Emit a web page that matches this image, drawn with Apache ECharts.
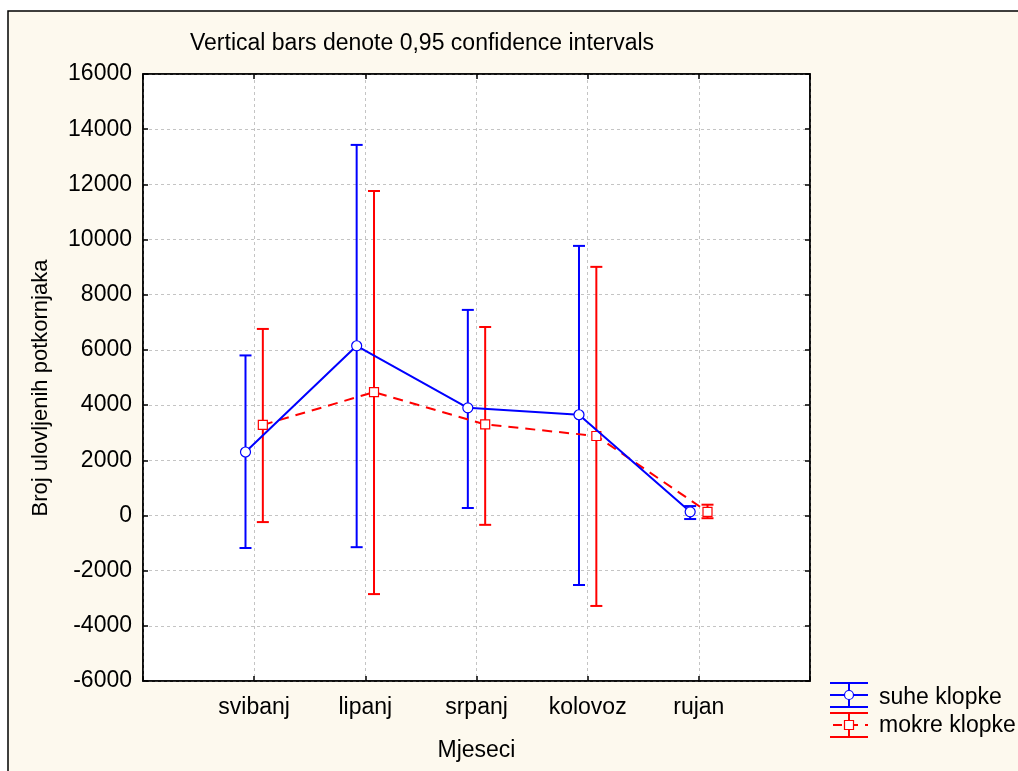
<!DOCTYPE html>
<html>
<head>
<meta charset="utf-8">
<script src="https://cdn.jsdelivr.net/npm/echarts@6/dist/echarts.min.js"></script>
<style>
html,body{margin:0;padding:0;background:#fff;}
#chart{width:1018px;height:771px;}
</style>
</head>
<body>
<div id="chart"></div>
<script>
// ---- data ----
var categories = ['svibanj', 'lipanj', 'srpanj', 'kolovoz', 'rujan'];
var suheMean = [2300, 6150, 3900, 3650, 130];
var suheLow  = [-1180, -1150, 270, -2520, -130];
var suheHigh = [5800, 13430, 7450, 9770, 340];
var mokreMean = [3280, 4470, 3300, 2880, 130];
var mokreLow  = [-240, -2850, -340, -3280, -100];
var mokreHigh = [6760, 11760, 6830, 9010, 390];
var yTicks = [-6000, -4000, -2000, 0, 2000, 4000, 6000, 8000, 10000, 12000, 14000, 16000];

var BLUE = '#0000ff', RED = '#ff0000';
var OFF = 0.078;
var FONT = 'Liberation Sans, Arial, sans-serif';
var FS = 23;

function pts(vals, off) { return vals.map(function (v, i) { return [i + 1 + off, v]; }); }
function bars(lo, hi, off) { return lo.map(function (v, i) { return [i + 1 + off, v, hi[i]]; }); }

function errRender(color) {
  return function (params, api) {
    var x = api.value(0);
    var p1 = api.coord([x, api.value(1)]);
    var p2 = api.coord([x, api.value(2)]);
    var hw = 6;
    var st = { stroke: color, lineWidth: 2 };
    return {
      type: 'group',
      children: [
        { type: 'line', shape: { x1: p1[0], y1: p1[1], x2: p2[0], y2: p2[1] }, style: st },
        { type: 'line', shape: { x1: p1[0] - hw, y1: p1[1], x2: p1[0] + hw, y2: p1[1] }, style: st },
        { type: 'line', shape: { x1: p2[0] - hw, y1: p2[1], x2: p2[0] + hw, y2: p2[1] }, style: st }
      ]
    };
  };
}

var axisLineSt = { show: true, onZero: false, lineStyle: { color: '#000', width: 1.5 } };
var tickSt = { show: true, inside: true, length: 5, lineStyle: { color: '#000', width: 1.5 } };
var gridSt = { show: true, lineStyle: { color: '#c4c4c4', type: [3, 3], width: 1 } };

var chart = echarts.init(document.getElementById('chart'), null, { renderer: 'canvas' });

var option = {
  backgroundColor: '#ffffff',
  animation: false,
  textStyle: { fontFamily: FONT },
  title: {
    text: 'Vertical bars denote 0,95 confidence intervals',
    left: 185, top: 27,
    textStyle: { fontSize: FS, fontWeight: 'normal', color: '#000', fontFamily: FONT }
  },
  grid: {
    left: 143, top: 74, right: 208, bottom: 90,
    show: true, backgroundColor: '#ffffff', borderColor: '#000', borderWidth: 1.5
  },
  xAxis: [{
    type: 'value', min: 0, max: 6, interval: 1, position: 'bottom',
    name: 'Mjeseci', nameLocation: 'middle', nameGap: 58,
    nameTextStyle: { fontSize: FS, color: '#000', fontFamily: FONT },
    axisLine: axisLineSt,
    axisTick: tickSt,
    axisLabel: {
      fontSize: FS, color: '#000', margin: 15, fontFamily: FONT,
      formatter: function (v) { return (v >= 1 && v <= 5) ? categories[v - 1] : ''; }
    },
    splitLine: gridSt
  }, {
    type: 'value', min: 0, max: 6, interval: 1, position: 'top',
    axisLine: axisLineSt, axisTick: tickSt,
    axisLabel: { show: false }, splitLine: { show: false }
  }],
  yAxis: [{
    type: 'value', min: -6000, max: 16000, interval: 2000, position: 'left',
    axisLine: axisLineSt,
    axisTick: tickSt,
    axisLabel: {
      fontSize: FS, color: '#000', margin: 11, fontFamily: FONT, padding: [3, 0, 0, 0],
      formatter: function (v) { return yTicks.indexOf(v) >= 0 ? String(v) : ''; }
    },
    splitLine: gridSt
  }, {
    type: 'value', min: -6000, max: 16000, interval: 2000, position: 'right',
    axisLine: axisLineSt, axisTick: tickSt,
    axisLabel: { show: false }, splitLine: { show: false }
  }],
  series: [
    {
      name: 'suhe klopke err', type: 'custom', renderItem: errRender(BLUE),
      data: bars(suheLow, suheHigh, -OFF), encode: { x: 0, y: [1, 2] }, z: 2
    },
    {
      name: 'mokre klopke err', type: 'custom', renderItem: errRender(RED),
      data: bars(mokreLow, mokreHigh, OFF), encode: { x: 0, y: [1, 2] }, z: 2
    },
    {
      name: 'mokre klopke', type: 'line', data: pts(mokreMean, OFF),
      symbol: 'rect', symbolSize: 9,
      lineStyle: { color: RED, width: 2, type: [10, 7] },
      itemStyle: { color: '#fff', borderColor: RED, borderWidth: 1.2 },
      z: 3
    },
    {
      name: 'suhe klopke', type: 'line', data: pts(suheMean, -OFF),
      symbol: 'circle', symbolSize: 10,
      lineStyle: { color: BLUE, width: 2 },
      itemStyle: { color: '#fff', borderColor: BLUE, borderWidth: 1.2 },
      z: 4
    }
  ],
  graphic: [
    {
      type: 'rect', z: -10, silent: true,
      shape: { x: 8, y: 11, width: 1030, height: 790 },
      style: { fill: '#fdf9ee', stroke: '#000', lineWidth: 1.5 }
    },
    {
      type: 'text', x: 41, y: 388, rotation: Math.PI / 2, z: 10,
      style: { text: 'Broj ulovljenih potkornjaka', font: '22px ' + FONT, fill: '#000', align: 'center', verticalAlign: 'middle' }
    },
    // legend: suhe klopke
    {
      type: 'group', x: 830, y: 682, z: 10,
      children: [
        { type: 'line', shape: { x1: 0, y1: 1, x2: 38, y2: 1 }, style: { stroke: BLUE, lineWidth: 2 } },
        { type: 'line', shape: { x1: 0, y1: 13, x2: 38, y2: 13 }, style: { stroke: BLUE, lineWidth: 2 } },
        { type: 'line', shape: { x1: 0, y1: 25, x2: 38, y2: 25 }, style: { stroke: BLUE, lineWidth: 2 } },
        { type: 'line', shape: { x1: 19, y1: 1, x2: 19, y2: 25 }, style: { stroke: BLUE, lineWidth: 2 } },
        { type: 'circle', shape: { cx: 19, cy: 13, r: 4.5 }, style: { fill: '#fff', stroke: BLUE, lineWidth: 1.2 } }
      ]
    },
    {
      type: 'text', x: 879, y: 698, z: 10,
      style: { text: 'suhe klopke', font: FS + 'px ' + FONT, fill: '#000', verticalAlign: 'middle' }
    },
    // legend: mokre klopke
    {
      type: 'group', x: 830, y: 712, z: 10,
      children: [
        { type: 'line', shape: { x1: 0, y1: 1, x2: 38, y2: 1 }, style: { stroke: RED, lineWidth: 2 } },
        { type: 'line', shape: { x1: 0, y1: 25, x2: 38, y2: 25 }, style: { stroke: RED, lineWidth: 2 } },
        { type: 'line', shape: { x1: 0, y1: 13, x2: 38, y2: 13 }, style: { stroke: RED, lineWidth: 2, lineDash: [9, 7], lineDashOffset: -3 } },
        { type: 'line', shape: { x1: 19, y1: 1, x2: 19, y2: 25 }, style: { stroke: RED, lineWidth: 2 } },
        { type: 'rect', shape: { x: 14.5, y: 8.5, width: 9, height: 9 }, style: { fill: '#fff', stroke: RED, lineWidth: 1.2 } }
      ]
    },
    {
      type: 'text', x: 879, y: 726, z: 10,
      style: { text: 'mokre klopke', font: FS + 'px ' + FONT, fill: '#000', verticalAlign: 'middle' }
    }
  ]
};
chart.setOption(option);
</script>
</body>
</html>
